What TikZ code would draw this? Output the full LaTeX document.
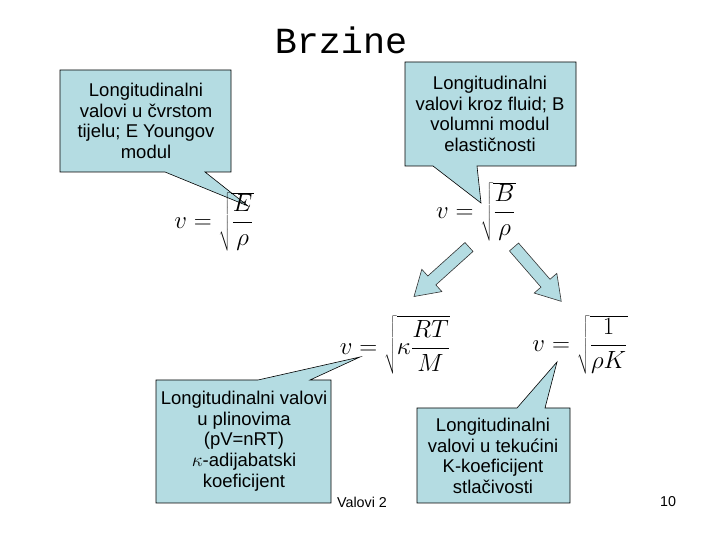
\documentclass[tikz,border=0pt]{standalone}
\usepackage{fontspec}
\setmainfont{Liberation Sans}
\newfontfamily\monof{Liberation Mono}
\begin{document}
\begin{tikzpicture}[x=1pt,y=1pt,
  callout/.style={fill=calloutblue,draw=black,line width=0.6pt},
  blockarrow/.style={fill=calloutblue,draw=black!80,line width=0.6pt},
  ctext/.style={align=center,font=\fontsize{16.5pt}{18.5pt}\selectfont,scale=1.12},
  formula/.style={font=\fontsize{22}{26}\selectfont,scale=1.2}]
\definecolor{calloutblue}{RGB}{180,220,226}
\useasboundingbox (0,0) rectangle (720,540);
\node[font=\monof\fontsize{32}{34}\selectfont,scale=1.15] (title) at (341,500) {Brzine};
% callout 1
\draw[callout] (60,470) -- (231,470) -- (231,368) -- (205,368) -- (248,334) -- (165,368) -- (60,368) -- cycle;
\node[ctext] (t1) at (146,419) {Longitudinalni\\valovi u čvrstom\\tijelu; E Youngov\\modul};
% callout 2
\draw[callout] (405,478) -- (576,478) -- (576,374) -- (477,374) -- (481,337) -- (433,374) -- (405,374) -- cycle;
\node[ctext] (t2) at (490,426) {Longitudinalni\\valovi kroz fluid; B\\volumni modul\\elastičnosti};
% callout 3
\draw[callout] (156,160) -- (258,160) -- (360,183) -- (310,160) -- (331,160) -- (331,37) -- (156,37) -- cycle;
\node[ctext] (t3) at (244,99) {Longitudinalni valovi\\u plinovima\\(pV=nRT)\\$\kappa$-adijabatski\\koeficijent};
% callout 4
\draw[callout] (417,132) -- (517,132) -- (557,178) -- (545,132) -- (570,132) -- (570,37) -- (417,37) -- cycle;
\node[ctext] (t4) at (493,84) {Longitudinalni\\valovi u tekućini\\K-koeficijent\\stlačivosti};
% formulas
\node[formula] (f1) at (214,318) {$v=\sqrt{\displaystyle\frac{E}{\rho}}$};
\node[formula] (f2) at (476,328) {$v=\sqrt{\displaystyle\frac{B}{\rho}}$};
\node[formula] (f3) at (395,195) {$v=\sqrt{\kappa\displaystyle\frac{RT}{M}}$};
\node[formula] (f4) at (580,195) {$v=\sqrt{\displaystyle\frac{1}{\rho K}}$};
% block arrows
\begin{scope}[shift={(469,293)},rotate=222]
\draw[blockarrow] (0,-6) -- (50,-6) -- (50,-15) -- (74,0) -- (50,15) -- (50,6) -- (0,6) -- cycle;
\end{scope}
\begin{scope}[shift={(514,293)},rotate=-49]
\draw[blockarrow] (0,-6) -- (48,-6) -- (48,-15) -- (72,0) -- (48,15) -- (48,6) -- (0,6) -- cycle;
\end{scope}
\node[font=\fontsize{13}{15}\selectfont,scale=1.1] (foot) at (362,38) {Valovi 2};
\node[font=\fontsize{13}{15}\selectfont,scale=1.1] (pg) at (668,38) {10};
\end{tikzpicture}
\end{document}
